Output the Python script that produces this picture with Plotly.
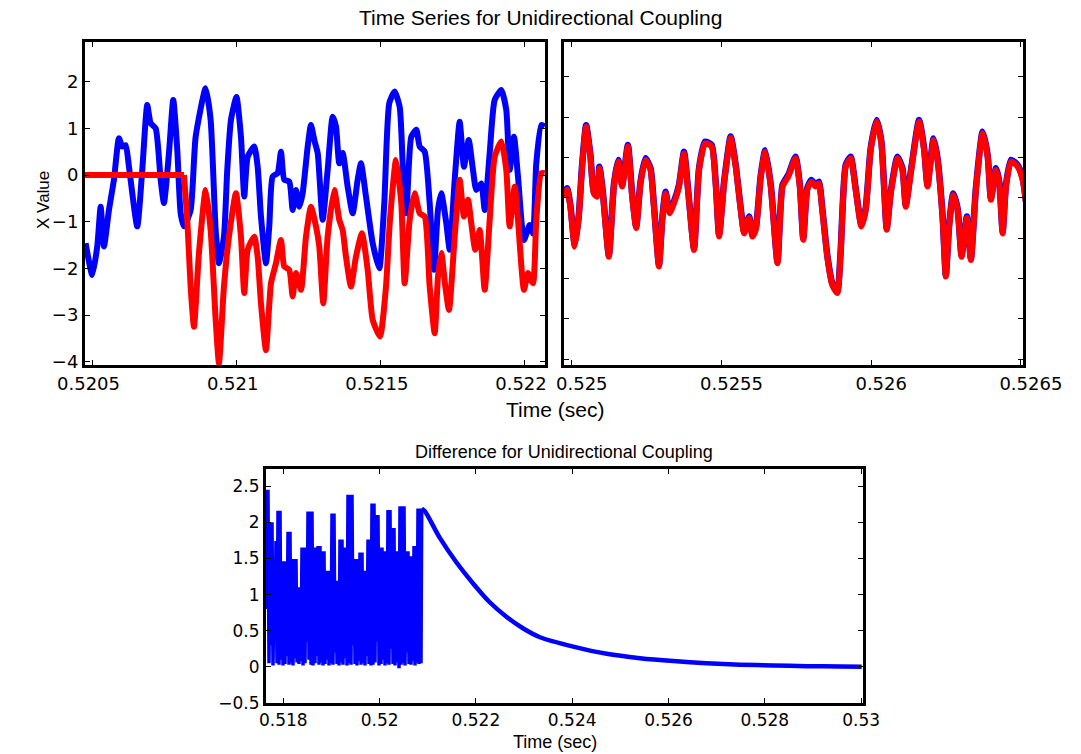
import plotly.graph_objects as go

# ---------------- data: top-left panel (before / at onset of coupling) ----------------
left_blue_t = [0.5204762, 0.5204991, 0.5205165, 0.5205283, 0.5205397, 0.5205571, 0.5205744, 0.5205917,
               0.5206032, 0.5206150, 0.5206264, 0.5206552, 0.5206726, 0.5206899, 0.5207017, 0.5207190,
               0.5207364, 0.5207478, 0.5207652, 0.5207801, 0.5207940, 0.5208058, 0.5208172, 0.5208404,
               0.5208578, 0.5208925, 0.5209098, 0.5209272, 0.5209386, 0.5209559, 0.5209674, 0.5209802,
               0.5209993, 0.5210149, 0.5210264, 0.5210382, 0.5210610, 0.5210728, 0.5210843, 0.5211016,
               0.5211131, 0.5211249, 0.5211422, 0.5211537, 0.5211651, 0.5211824, 0.5211942, 0.5212057,
               0.5212171, 0.5212289, 0.5212463, 0.5212577, 0.5212692, 0.5212810, 0.5212983, 0.5213156,
               0.5213330, 0.5213444, 0.5213559, 0.5213677, 0.5213850, 0.5214024, 0.5214197, 0.5214312,
               0.5214485, 0.5214717, 0.5214946, 0.5215120, 0.5215293, 0.5215480, 0.5215654, 0.5215768,
               0.5215883, 0.5216056, 0.5216230, 0.5216348, 0.5216521, 0.5216694, 0.5216844, 0.5216982,
               0.5217097, 0.5217270, 0.5217388, 0.5217562, 0.5217735, 0.5217884, 0.5218047, 0.5218196,
               0.5218311, 0.5218484, 0.5218602, 0.5218776, 0.5218949, 0.5219178, 0.5219351, 0.5219469,
               0.5219618, 0.5219757, 0.5219965, 0.5220163, 0.5220278, 0.5220392, 0.5220565, 0.5220683]
left_blue_v = [-1.46, -2.14, -1.53, -0.68, -1.53, -0.75, -0.10, 0.79,
               0.61, 0.64, 0.18, -1.10, 0.11, 1.50, 1.11, 1.00,
               -0.10, -0.60, 0.47, 1.61, 0.54, -0.82, -1.10, -0.75,
               0.82, 1.86, 1.18, -1.18, -1.89, -1.32, 0.11, 1.18,
               1.67, 0.82, -0.46, 0.39, 0.61, 0.18, -0.89, -1.89,
               -1.10, -0.03, 0.04, 0.50, -0.10, -0.14, -0.75, -0.32,
               -0.68, -0.39, 0.61, 1.07, 0.75, 0.47, -0.96, 0.11,
               1.25, 1.04, 0.25, 0.47, -0.25, -0.82, -0.10, 0.25,
               -0.46, -1.46, -2.00, -0.60, 1.54, 1.79, 1.46, 0.11,
               -0.82, 0.82, 0.97, 0.61, 0.50, -0.60, -2.03, -0.75,
               -0.39, -1.03, -1.60, -0.10, 1.14, 0.18, 0.75, 0.11,
               -0.32, -0.18, -0.75, 0.47, 1.61, 1.82, 1.39, 0.11,
               0.82, -0.03, -1.39, -1.07, -1.25, 0.25, 1.07, 1.04]

left_red_t = [0.5204740, 0.5208172, 0.5208287, 0.5208404, 0.5208519, 0.5208692, 0.5208925, 0.5209098,
              0.5209272, 0.5209386, 0.5209559, 0.5209733, 0.5209976, 0.5210149, 0.5210264, 0.5210382,
              0.5210610, 0.5210728, 0.5210843, 0.5211016, 0.5211190, 0.5211363, 0.5211537, 0.5211651,
              0.5211824, 0.5211942, 0.5212057, 0.5212230, 0.5212404, 0.5212577, 0.5212751, 0.5212865,
              0.5213004, 0.5213156, 0.5213385, 0.5213559, 0.5213677, 0.5213791, 0.5213965, 0.5214138,
              0.5214346, 0.5214544, 0.5214717, 0.5214971, 0.5215179, 0.5215317, 0.5215526, 0.5215709,
              0.5215827, 0.5216001, 0.5216174, 0.5216348, 0.5216521, 0.5216694, 0.5216868, 0.5216982,
              0.5217097, 0.5217236, 0.5217364, 0.5217562, 0.5217735, 0.5217884, 0.5218023, 0.5218137,
              0.5218276, 0.5218429, 0.5218602, 0.5218776, 0.5218949, 0.5219178, 0.5219351, 0.5219469,
              0.5219643, 0.5219757, 0.5219965, 0.5220104, 0.5220278, 0.5220392, 0.5220565, 0.5220683]
left_red_v = [0.00, 0.00, -0.96, -2.39, -3.25, -1.67, -0.32, -1.18,
              -3.10, -4.03, -2.39, -1.32, -0.39, -1.32, -2.53, -1.60,
              -1.32, -1.75, -2.75, -3.75, -2.32, -1.89, -1.39, -1.96,
              -2.03, -2.60, -2.10, -2.46, -1.32, -0.68, -1.10, -1.53,
              -2.75, -1.32, -0.32, -0.96, -1.18, -1.75, -2.39, -1.75,
              -1.25, -2.03, -3.10, -3.46, -2.39, -0.96, 0.32, -0.60,
              -2.32, -0.96, -0.39, -0.82, -0.89, -2.39, -3.39, -2.18,
              -1.67, -2.39, -2.89, -1.32, -0.10, -0.89, -0.53, -1.03,
              -1.60, -1.18, -2.46, -0.96, 0.39, 0.72, 0.11, -1.10,
              -0.25, -0.96, -2.46, -2.10, -2.32, -0.96, 0.04, 0.04]
left_red_flat_points = 2   # the response sits at 0 until the coupling is switched on

# ---------------- data: top-right panel (synchronised) ----------------
right_t = [0.5249732, 0.5249843, 0.5249953, 0.5250100, 0.5250234, 0.5250345, 0.5250479, 0.5250622,
           0.5250736, 0.5250847, 0.5250924, 0.5251037, 0.5251238, 0.5251406, 0.5251550, 0.5251683,
           0.5251874, 0.5252018, 0.5252152, 0.5252296, 0.5252463, 0.5252631, 0.5252744, 0.5252912,
           0.5253022, 0.5253132, 0.5253266, 0.5253414, 0.5253581, 0.5253748, 0.5253892, 0.5254083,
           0.5254250, 0.5254451, 0.5254672, 0.5254806, 0.5254920, 0.5255087, 0.5255308, 0.5255475,
           0.5255643, 0.5255756, 0.5255924, 0.5256034, 0.5256145, 0.5256312, 0.5256459, 0.5256647,
           0.5256871, 0.5257038, 0.5257239, 0.5257473, 0.5257617, 0.5257731, 0.5257865, 0.5257999,
           0.5258143, 0.5258253, 0.5258367, 0.5258534, 0.5258701, 0.5258869, 0.5258979, 0.5259147,
           0.5259314, 0.5259481, 0.5259672, 0.5259816, 0.5259983, 0.5260184, 0.5260341, 0.5260519,
           0.5260653, 0.5260877, 0.5261044, 0.5261155, 0.5261322, 0.5261600, 0.5261767, 0.5261881,
           0.5262082, 0.5262215, 0.5262383, 0.5262493, 0.5262604, 0.5262738, 0.5262885, 0.5263019,
           0.5263196, 0.5263330, 0.5263497, 0.5263721, 0.5263889, 0.5263999, 0.5264167, 0.5264277,
           0.5264391, 0.5264501, 0.5264669, 0.5264893, 0.5265060, 0.5265171]
right_red_v = [-0.97, -0.80, -1.22, -2.21, -1.47, -0.23, 0.76, 0.02,
               -0.89, -0.97, -0.27, -0.89, -2.46, -0.72, -0.10, -0.72,
               0.27, -0.97, -1.75, -0.64, -0.06, -0.31, -1.22, -2.70,
               -1.55, -0.89, -1.38, -1.13, -0.72, 0.10, -0.89, -2.29,
               -0.31, 0.35, 0.27, -0.64, -1.96, -0.64, 0.48, -0.23,
               -1.30, -1.88, -1.50, -1.96, -1.79, -0.48, 0.14, -0.72,
               -2.62, -0.72, -0.46, -0.02, -0.72, -2.04, -0.80, -0.60,
               -0.72, -0.64, -1.30, -2.46, -3.16, -3.36, -2.37, -0.23,
               -0.02, -0.80, -1.71, -1.30, 0.19, 0.89, 0.35, -1.79,
               -0.89, -0.02, -0.31, -1.22, -0.39, 0.89, 0.19, -0.72,
               0.43, -0.06, -1.47, -2.95, -1.71, -0.93, -1.30, -2.46,
               -1.50, -2.54, -0.80, 0.60, 0.02, -1.05, -0.31, -0.64,
               -1.88, -0.72, -0.10, -0.23, -0.56, -1.13]
right_blue_v = [-0.93, -0.76, -1.18, -2.17, -1.43, -0.19, 0.80, 0.06,
                -0.85, -0.93, -0.23, -0.85, -2.42, -0.68, -0.06, -0.68,
                0.31, -0.93, -1.71, -0.60, -0.02, -0.27, -1.18, -2.66,
                -1.51, -0.85, -1.34, -1.09, -0.68, 0.14, -0.85, -2.25,
                -0.27, 0.39, 0.31, -0.60, -1.92, -0.60, 0.52, -0.19,
                -1.26, -1.84, -1.46, -1.92, -1.75, -0.44, 0.18, -0.68,
                -2.58, -0.68, -0.42, 0.02, -0.68, -2.00, -0.76, -0.56,
                -0.68, -0.60, -1.26, -2.42, -3.12, -3.32, -2.33, -0.19,
                0.02, -0.76, -1.67, -1.26, 0.23, 0.93, 0.39, -1.75,
                -0.85, 0.02, -0.27, -1.18, -0.35, 0.93, 0.23, -0.68,
                0.47, -0.02, -1.43, -2.91, -1.67, -0.89, -1.26, -2.42,
                -1.46, -2.50, -0.76, 0.64, 0.06, -1.01, -0.27, -0.60,
                -1.84, -0.68, -0.06, -0.19, -0.52, -1.09]

# ---------------- data: bottom panel (difference) ----------------
diff_noise_t0 = 0.517641      # first sample time of the unsynchronised part
diff_noise_dt = 2.0768e-5     # sample spacing
diff_noise_high = [2.45, 2.45, 2.00, 2.00, 1.00, 1.74, 2.16, 2.16, 1.46, 1.46,
                   1.46, 1.87, 1.87, 1.49, 1.49, 1.49, 1.10, 1.10, 1.65, 1.65,
                   1.65, 2.15, 2.15, 2.15, 1.65, 1.65, 1.67, 1.67, 1.60, 1.60,
                   1.33, 1.33, 1.33, 2.12, 2.12, 1.19, 1.19, 1.76, 1.76, 1.65,
                   1.65, 2.38, 2.38, 2.38, 1.49, 1.49, 1.49, 1.58, 1.58, 1.33,
                   1.33, 1.76, 1.76, 2.26, 2.26, 2.10, 2.10, 1.65, 1.65, 1.60,
                   1.60, 2.17, 2.17, 1.92, 1.92, 1.60, 1.60, 2.22, 2.22, 2.22,
                   1.60, 1.60, 1.53, 1.53, 1.67, 1.67, 2.19, 2.19]
diff_noise_low = [0.80, 0.05, 0.30, 0.02, 0.60, 0.05, 0.03, 0.10, 0.02, 0.04,
                  0.15, 0.03, 0.05, 0.02, 0.12, 0.06, 0.04, 0.08, 0.02, 0.05,
                  0.35, 0.10, 0.03, 0.02, 0.05, 0.15, 0.03, 0.06, 0.02, 0.04,
                  0.10, 0.02, 0.05, 0.03, 0.20, 0.04, 0.02, 0.06, 0.03, 0.12,
                  0.02, 0.05, 0.03, 0.30, 0.04, 0.02, 0.08, 0.03, 0.05, 0.02,
                  0.15, 0.04, 0.02, 0.03, 0.06, 0.35, 0.02, 0.04, 0.10, 0.02,
                  0.05, 0.03, 0.25, 0.04, 0.02, 0.06, -0.02, 0.03, 0.05, 0.02,
                  0.20, 0.04, 0.03, 0.08, 0.02, 0.06, 0.04, 0.05]
diff_decay_t = [0.5208743, 0.5209428, 0.5212543, 0.5216012, 0.5219459, 0.5222927, 0.5226396,
                0.5229843, 0.5233311, 0.5240227, 0.5247164, 0.5254079, 0.5260995, 0.5267932,
                0.5274847, 0.5281763, 0.5288699, 0.5295615, 0.5300122]
diff_decay_v = [2.19, 2.15, 1.78, 1.44, 1.15, 0.89, 0.69, 0.53, 0.41, 0.28, 0.18, 0.12,
                0.08, 0.05, 0.03, 0.02, 0.01, 0.005, 0.0]

# tick labels
left_xticks = [0.5205, 0.521, 0.5215, 0.522]
left_xlabels = ["0.5205", "0.521", "0.5215", "0.522"]
left_yticks = [-4, -3, -2, -1, 0, 1, 2]
right_xticks = [0.525, 0.5255, 0.526, 0.5265]
right_xlabels = ["0.525", "0.5255", "0.526", "0.5265"]
right_yticks = [-5, -4, -3, -2, -1, 0, 1, 2]
bot_xticks = [0.518, 0.52, 0.522, 0.524, 0.526, 0.528, 0.53]
bot_xlabels = ["0.518", "0.52", "0.522", "0.524", "0.526", "0.528", "0.53"]
bot_yticks = [-0.5, 0, 0.5, 1, 1.5, 2, 2.5]
bot_ylabels = ["\u22120.5", "0", "0.5", "1", "1.5", "2", "2.5"]

# interleave the unsynchronised difference samples
noise_v = []
for h, l in zip(diff_noise_high, diff_noise_low):
    noise_v.extend([h, l])
noise_t = [diff_noise_t0 + i * diff_noise_dt for i in range(len(noise_v))]

BLUE = "#0000FF"
RED = "#FF0000"
SM = 0.55

fig = go.Figure()
fig.add_trace(go.Scatter(x=left_blue_t, y=left_blue_v, mode="lines",
                         line=dict(color=BLUE, width=6, shape="spline", smoothing=SM),
                         xaxis="x", yaxis="y", showlegend=False))
k = left_red_flat_points
fig.add_trace(go.Scatter(x=left_red_t[:k], y=left_red_v[:k], mode="lines",
                         line=dict(color=RED, width=6),
                         xaxis="x", yaxis="y", showlegend=False))
fig.add_trace(go.Scatter(x=left_red_t[k - 1:], y=left_red_v[k - 1:], mode="lines",
                         line=dict(color=RED, width=6, shape="spline", smoothing=SM),
                         xaxis="x", yaxis="y", showlegend=False))
fig.add_trace(go.Scatter(x=right_t, y=right_blue_v, mode="lines",
                         line=dict(color=BLUE, width=6.5, shape="spline", smoothing=SM),
                         xaxis="x2", yaxis="y2", showlegend=False))
fig.add_trace(go.Scatter(x=right_t, y=right_red_v, mode="lines",
                         line=dict(color=RED, width=6, shape="spline", smoothing=SM),
                         xaxis="x2", yaxis="y2", showlegend=False))
fig.add_trace(go.Scatter(x=noise_t + diff_decay_t[:1], y=noise_v + diff_decay_v[:1], mode="lines",
                         line=dict(color=BLUE, width=3.5, simplify=False),
                         xaxis="x3", yaxis="y3", showlegend=False))
fig.add_trace(go.Scatter(x=diff_decay_t, y=diff_decay_v, mode="lines",
                         line=dict(color=BLUE, width=4.5, shape="spline", smoothing=0.8),
                         xaxis="x3", yaxis="y3", showlegend=False))

W, H = 1081, 754
def px_x(p):
    return p / W
def px_y(p):
    return 1 - p / H

axis_common = dict(showline=True, linecolor="black", linewidth=3, mirror="ticks",
                   ticks="inside", ticklen=5, tickwidth=1, tickcolor="black",
                   showgrid=False, zeroline=False, automargin=False)
top_tick_font = dict(family="DejaVu Sans", size=18, color="black")
bot_tick_font = dict(family="DejaVu Sans", size=17, color="black")

fig.update_layout(
    width=W, height=H,
    margin=dict(l=0, r=0, t=0, b=0),
    paper_bgcolor="white", plot_bgcolor="white",
    xaxis=dict(domain=[px_x(85), px_x(545)], range=[0.520474, 0.5220694], anchor="y",
               tickvals=left_xticks, ticktext=left_xlabels, tickfont=top_tick_font,
               ticklabelshift=-4, **axis_common),
    yaxis=dict(domain=[px_y(365), px_y(42)], range=[-4.07, 2.85], anchor="x",
               tickvals=left_yticks, tickfont=top_tick_font, **axis_common),
    xaxis2=dict(domain=[px_x(564), px_x(1023)], range=[0.524974, 0.526507], anchor="y2",
                tickvals=right_xticks, ticktext=right_xlabels, tickfont=top_tick_font,
                ticklabelshift=10, **axis_common),
    yaxis2=dict(domain=[px_y(365), px_y(42)], range=[-5.14, 2.86], anchor="x2",
                tickvals=right_yticks, showticklabels=False, **axis_common),
    xaxis3=dict(domain=[px_x(266), px_x(863)], range=[0.517641, 0.530039], anchor="y3",
                tickvals=bot_xticks, ticktext=bot_xlabels, tickfont=bot_tick_font,
                ticklabelstandoff=0, **axis_common),
    yaxis3=dict(domain=[px_y(703), px_y(469)], range=[-0.5, 2.737], anchor="x3",
                tickvals=bot_yticks, ticktext=bot_ylabels, tickfont=bot_tick_font, **axis_common),
)

ann_font = "Liberation Sans"
def label(text, x, y, size, angle=0):
    fig.add_annotation(text=text, x=px_x(x), y=px_y(y), xref="paper", yref="paper",
                       xanchor="center", yanchor="middle", showarrow=False, textangle=angle,
                       borderpad=0, font=dict(family=ann_font, size=size, color="black"))

label("Time Series for Unidirectional Coupling", 540, 17, 21)
label("Time (sec)", 555, 410, 21)
label("X Value", 43, 200, 17, angle=-90)
label("Difference for Unidirectional Coupling", 564, 452, 18)
label("Time (sec)", 555, 742, 18)

fig.write_html("out.html")
